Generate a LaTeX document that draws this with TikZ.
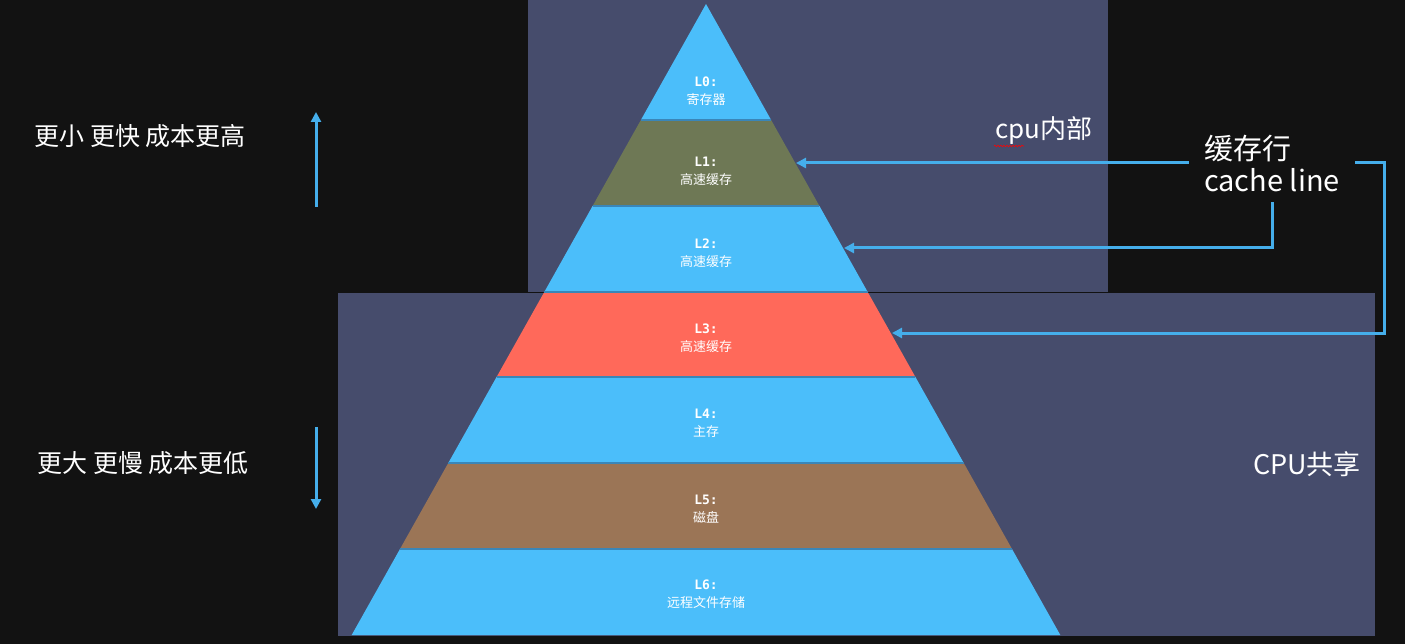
\documentclass[tikz,border=0pt]{standalone}
\usepackage{fontspec}
\setmainfont{Noto Sans CJK SC}
\newfontfamily\monofont{DejaVu Sans Mono}
\usetikzlibrary{arrows.meta,decorations.pathmorphing}
\definecolor{board}{HTML}{121212}
\definecolor{panel}{HTML}{464C6C}
\definecolor{lblue}{HTML}{4BBEFA}
\definecolor{lolive}{HTML}{6E7855}
\definecolor{lred}{HTML}{FF695A}
\definecolor{lbrown}{HTML}{9B7556}
\definecolor{seam}{HTML}{3A86B8}
\definecolor{linkblue}{HTML}{45AEEB}

\begin{document}
\begin{tikzpicture}[x=1pt,y=-1pt,
  layertext/.style={text=white, align=center, inner sep=0, font=\fontsize{13}{18}\selectfont},
  bigtext/.style={text=white, inner sep=0, font=\fontsize{25}{30}\selectfont},
  link/.style={draw=linkblue, line width=3pt, -{Triangle[length=10pt,width=10pt]}}]
%%%%%%%%%%%%%%%%%%%
\fill[board] (0,0) rectangle (1405,644);
\fill[panel] (528,0) rectangle (1108,292);
\fill[panel] (338,293) rectangle (1375,636);

%%%%%%%%%%%%%%%%%%%
\foreach \top/\bot/\col in {4/120/lblue, 120/206/lolive, 206/292/lblue, 292/377/lred, 377/463/lblue, 463/549/lbrown, 549/635/lblue}{
  \fill[\col] ({706-0.5615*(\top-4)},\top) -- ({706+0.5615*(\top-4)},\top)
    -- ({706+0.5615*(\bot-4)},\bot) -- ({706-0.5615*(\bot-4)},\bot) -- cycle;
}
\foreach \y in {120,206,292,377,463,549}{
  \draw[seam, line width=1.2pt] ({706-0.5615*(\y-4)},\y) -- ({706+0.5615*(\y-4)},\y);
}

%%%%%%%%%%%%%%%%%%%
\node[layertext] (l0) at (706,91) {{\monofont\bfseries L0:}\\寄存器};
\node[layertext] (l1) at (706,171) {{\monofont\bfseries L1:}\\高速缓存};
\node[layertext] (l2) at (706,253) {{\monofont\bfseries L2:}\\高速缓存};
\node[layertext] (l3) at (706,338) {{\monofont\bfseries L3:}\\高速缓存};
\node[layertext] (l4) at (706,423) {{\monofont\bfseries L4:}\\主存};
\node[layertext] (l5) at (706,509) {{\monofont\bfseries L5:}\\磁盘};
\node[layertext] (l6) at (706,594) {{\monofont\bfseries L6:}\\远程文件存储};

\node[bigtext] (fast) at (140,136) {更小 更快 成本更高};
\node[bigtext] (slow) at (143,463) {更大 更慢 成本更低};
\node[bigtext, font=\fontsize{26}{30}\selectfont] (inside) at (1044,131) {cpu内部};
\node[bigtext, font=\fontsize{27}{30}\selectfont] (shared) at (1307,464) {CPU共享};
\node[bigtext, font=\fontsize{29}{32}\selectfont, align=left, minimum width=166pt, minimum height=78pt] (cache) at (1272,163) {缓存行\\cache line};

\draw[red, line width=0.6pt, decorate, decoration={snake, amplitude=0.8pt, segment length=3pt}] (994,146) -- (1024,146);

%%%%%%%%%%%%%%%%%%%
\coordinate (upfrom) at (316,207);
\coordinate (upto) at (316,112);
\coordinate (downfrom) at (316,427);
\coordinate (downto) at (316,509);
\coordinate (l1edge) at (796,163);
\coordinate (l2edge) at (844,248);
\coordinate (l3edge) at (892,333);

\draw[link] (upfrom) -- (upto);
\draw[link] (downfrom) -- (downto);
\draw[link] (cache.west) -- (l1edge);
\draw[link] (cache.south) |- (l2edge);
\draw[link] (cache.east) -- ++(29,0) |- (l3edge);
\end{tikzpicture}
\end{document}
